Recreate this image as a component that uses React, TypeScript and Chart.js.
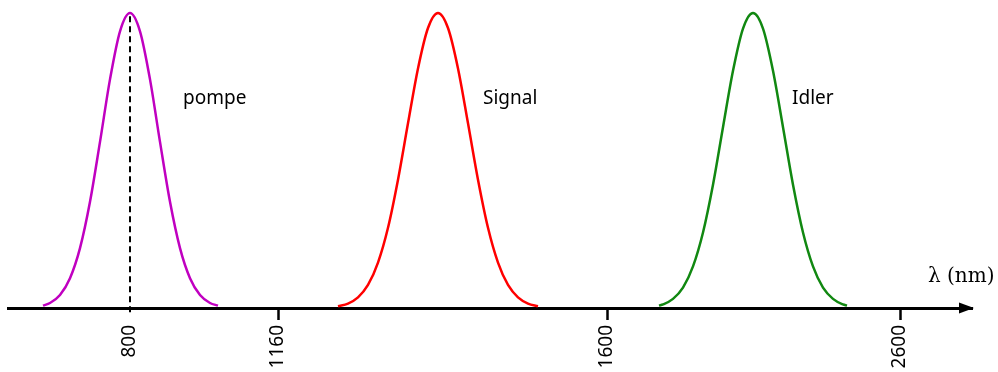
import React, { useEffect, useRef } from 'react';
import Chart from 'chart.js/auto';

// Schematic axis positions (arbitrary units) and their wavelength labels
const tickValues = [130, 278, 607, 900];
const tickLabels = ['800', '1160', '1600', '2600'];

const seriesNames = ['pompe', 'Signal', 'Idler'];
const seriesColors = ['#C000C0', '#FF0000', '#118811'];

const pumpX = [43, 50, 60, 70, 80, 90, 100, 110, 120, 130, 140, 150, 160, 170, 180, 190, 200, 210, 218];
const pumpY = [0.008, 0.017, 0.044, 0.101, 0.203, 0.36, 0.563, 0.775, 0.938, 1, 0.938, 0.775, 0.563, 0.36, 0.203, 0.101, 0.044, 0.017, 0.008];

const signalX = [338, 348, 358, 368, 378, 388, 398, 408, 418, 428, 438, 448, 458, 468, 478, 488, 498, 508, 518, 528, 538];
const signalY = [0.006, 0.015, 0.036, 0.078, 0.154, 0.272, 0.435, 0.626, 0.812, 0.949, 1, 0.949, 0.812, 0.626, 0.435, 0.272, 0.154, 0.078, 0.036, 0.015, 0.006];

const idlerX = [659, 663, 673, 683, 693, 703, 713, 723, 733, 743, 753, 763, 773, 783, 793, 803, 813, 823, 833, 843, 847];
const idlerY = [0.008, 0.012, 0.031, 0.069, 0.141, 0.256, 0.418, 0.613, 0.804, 0.947, 1, 0.947, 0.804, 0.613, 0.418, 0.256, 0.141, 0.069, 0.031, 0.012, 0.008];

const pumpCenter = 130;
const dashedX = [pumpCenter, pumpCenter];
const dashedY = [-0.014, 1];

const axisTitle = 'λ (nm)';

const zip = (xs: number[], ys: number[]) => xs.map((x, i) => ({ x, y: ys[i] }));

export default function App() {
  const ref = useRef<HTMLCanvasElement | null>(null);

  useEffect(() => {
    if (!ref.current) return;

    const overlay = {
      id: 'overlay',
      afterDraw(chart: any) {
        const { ctx, scales } = chart;
        const x = scales.x;
        const y = scales.y;
        const y0 = y.getPixelForValue(0);
        ctx.save();
        // arrow head
        const tip = x.right + 2;
        ctx.fillStyle = '#000';
        ctx.beginPath();
        ctx.moveTo(tip, y0);
        ctx.lineTo(tip - 15, y0 - 5.5);
        ctx.lineTo(tip - 15, y0 + 5.5);
        ctx.closePath();
        ctx.fill();
        // series labels
        ctx.font = '19px "Noto Sans"';
        ctx.textBaseline = 'alphabetic';
        ctx.textAlign = 'left';
        const labelXs = [183, 483, 792];
        seriesNames.forEach((name, i) => {
          ctx.fillText(name, x.getPixelForValue(labelXs[i]), y.getPixelForValue(0.69));
        });
        // axis title
        ctx.font = '20px "DejaVu Serif"';
        ctx.fillText(axisTitle, x.right - 44, y0 - 26);
        ctx.restore();
      },
    };

    const chart = new Chart(ref.current, {
      type: 'line',
      data: {
        datasets: [
          {
            label: seriesNames[0],
            data: zip(pumpX, pumpY),
            borderColor: seriesColors[0],
            borderWidth: 2.5,
            pointRadius: 0,
            cubicInterpolationMode: 'monotone',
            clip: false,
          },
          {
            label: seriesNames[1],
            data: zip(signalX, signalY),
            borderColor: seriesColors[1],
            borderWidth: 2.5,
            pointRadius: 0,
            cubicInterpolationMode: 'monotone',
            clip: false,
          },
          {
            label: seriesNames[2],
            data: zip(idlerX, idlerY),
            borderColor: seriesColors[2],
            borderWidth: 2.5,
            pointRadius: 0,
            cubicInterpolationMode: 'monotone',
            clip: false,
          },
          {
            label: 'center',
            data: zip(dashedX, dashedY),
            borderColor: '#000',
            borderWidth: 2,
            borderDash: [6, 4],
            pointRadius: 0,
            clip: false,
          },
        ],
      },
      options: {
        animation: false,
        responsive: false,
        maintainAspectRatio: false,
        layout: { padding: { left: 8, right: 26, top: 13, bottom: 0 } },
        plugins: { legend: { display: false }, tooltip: { enabled: false } },
        scales: {
          x: {
            type: 'linear',
            min: 8,
            max: 972,
            afterBuildTicks: (scale: any) => {
              scale.ticks = tickValues.map((v) => ({ value: v }));
            },
            afterFit: (scale: any) => {
              scale.height = 64;
            },
            border: { display: true, color: '#000', width: 3 },
            grid: {
              display: true,
              drawOnChartArea: false,
              drawTicks: true,
              tickLength: 12,
              tickWidth: 2.5,
              color: '#000',
              tickColor: (c: any) => (c.tick && c.tick.value === pumpCenter ? 'rgba(0,0,0,0)' : '#000'),
            },
            ticks: {
              autoSkip: false,
              minRotation: 90,
              maxRotation: 90,
              padding: 5,
              color: '#000',
              font: { family: 'Noto Sans', size: 19 },
              callback: (v: any) => {
                const i = tickValues.indexOf(Number(v));
                return i >= 0 ? tickLabels[i] : '';
              },
            },
          },
          y: {
            type: 'linear',
            min: 0,
            max: 1,
            display: false,
          },
        },
      },
      plugins: [overlay],
    } as any);

    return () => chart.destroy();
  }, []);

  return (
    <div style={{ position: 'fixed', left: 0, top: 0, width: 998, height: 372, background: '#fff' }}>
      <canvas ref={ref} width={998} height={372} style={{ display: 'block' }} />
    </div>
  );
}
